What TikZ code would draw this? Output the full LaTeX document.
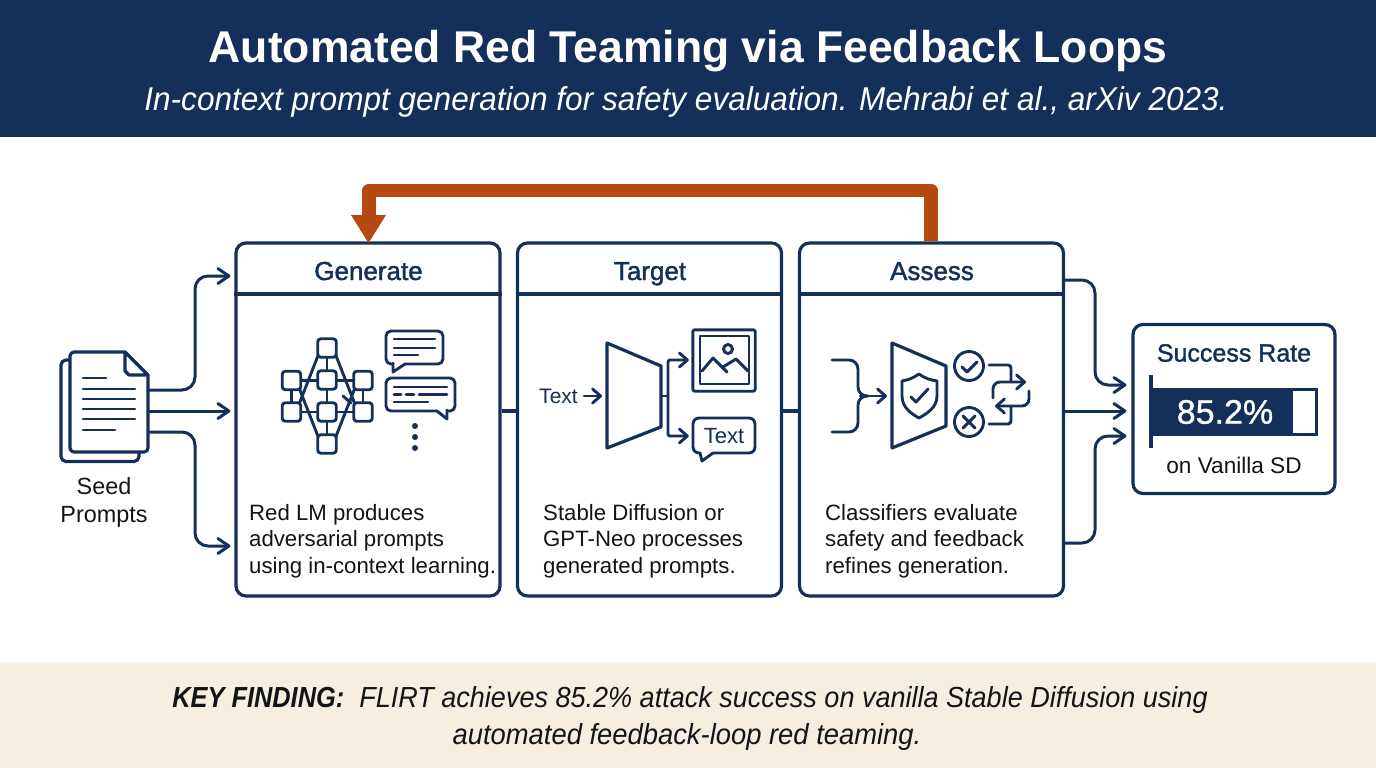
\documentclass[tikz,border=0pt]{standalone}
\usepackage{fontspec}
\setmainfont{Liberation Sans}
\usetikzlibrary{arrows.meta,calc}
\definecolor{navy}{HTML}{14305A}
\definecolor{rust}{HTML}{B5490F}
\definecolor{cream}{HTML}{F6EFE0}
\definecolor{ink}{HTML}{111418}
\newcommand{\fsz}[1]{\fontsize{#1}{#1}\selectfont}
\tikzset{
  line/.style={draw=navy,line width=3.2pt,line join=round,line cap=round},
  thinline/.style={draw=navy,line width=2.9pt,line join=round,line cap=round},
  textline/.style={draw=navy,line width=2.6pt,line cap=round},
  conn/.style={draw=navy,line width=3pt,rounded corners=13pt,line cap=round},
  arr/.style={conn,-{Straight Barb[length=11pt,width=15pt,line cap=round,round]}},
  smallarr/.style={thinline,-{Straight Barb[length=8pt,width=14pt,line cap=round,round]}},
  panel/.style={draw=navy,line width=3.2pt,rounded corners=10pt,fill=white,minimum width=264pt,minimum height=353pt,inner sep=0pt},
  head/.style={text=navy,font=\fsz{26}\addfontfeature{FakeBold=1.6},anchor=base},
  body/.style={text=ink,font=\fsz{22.2},align=left,anchor=west,inner sep=0pt},
  mini/.style={thinline,fill=white,rounded corners=3pt,minimum size=18.5pt,inner sep=0pt},
}
\begin{document}
\begin{tikzpicture}[x=1pt,y=-1pt]
\useasboundingbox (0,0) rectangle (1376,768);
\fill[white] (0,0) rectangle (1376,768);
% bands
\fill[navy] (0,0) rectangle (1376,137);
\fill[cream] (0,662) rectangle (1376,768);
\node[text=white,font=\fsz{44.5}\bfseries,inner sep=0pt] (title) at (688,51) {Automated Red Teaming via Feedback Loops};
\node[text=white,font=\fsz{33}\itshape\addfontfeature{FakeStretch=0.956},inner sep=0pt] (subtitle) at (686,102) {In-context prompt generation for safety evaluation. Mehrabi et al., arXiv 2023.};
\node[text=ink,font=\fsz{29}\itshape\addfontfeature{FakeStretch=0.932},inner sep=0pt] (key1) at (690,699.5) {{\bfseries\addfontfeature{FakeStretch=0.875}KEY FINDING:}\ \ FLIRT achieves 85.2\% attack success on vanilla Stable Diffusion using};
\node[text=ink,font=\fsz{29}\itshape\addfontfeature{FakeStretch=0.944},inner sep=0pt] (key2) at (687,736.5) {automated feedback-loop red teaming.};
% y levels
\coordinate (yA) at (0,276);
\coordinate (yB) at (0,411);
\coordinate (yC) at (0,546);
\coordinate (yD) at (0,385);
\coordinate (yE) at (0,436);
% panels
\node[panel] (gen) at (368,419.5) {};
\node[panel] (tar) at (649.5,419.5) {};
\node[panel] (ass) at (931.5,419.5) {};
\draw[line,line cap=butt] (gen.west|-0,294) -- (gen.east|-0,294);
\draw[line,line cap=butt] (tar.west|-0,294) -- (tar.east|-0,294);
\draw[line,line cap=butt] (ass.west|-0,294) -- (ass.east|-0,294);
\node[head] (genh) at (368.5,280) {Generate};
\node[head] (tarh) at (650,280) {Target};
\node[head] (assh) at (932,280) {Assess};
\node[body] (gent) at (249,541.2) {Red LM produces\\[4pt]adversarial prompts\\[4pt]using in-context learning.};
\node[body] (tart) at (543,541.2) {Stable Diffusion or\\[4pt]GPT-Neo processes\\[4pt]generated prompts.};
\node[body] (asst) at (825,541.2) {Classifiers evaluate\\[4pt]safety and feedback\\[4pt]refines generation.};
% links between panels
\draw[line,line cap=butt] (gen.east|-yB) -- (tar.west|-yB);
\draw[line,line cap=butt] (tar.east|-yB) -- (ass.west|-yB);
% feedback
\draw[rust,line width=13.5pt,line join=round] (ass.north-|931,0) -- (931,190.5) -- (369,190.5) -- (369,216);
\fill[rust] (351,215) -- (386,215) -- (368.5,243) -- cycle;
% seed document
\node[minimum width=78pt,minimum height=100pt,inner sep=0pt] (doc) at (109,402) {};
\draw[line,rounded corners=5pt] (70,360) -- (61,360) -- (61,461.5) -- (139,461.5) -- (139,452);
\draw[line,fill=white,rounded corners=4pt] (125,352) -- (70,352) -- (70,452) -- (148,452) -- (148,375);
\draw[line] (125,352) -- (148,375) -- (129,375) -- (125,371) -- cycle;
\foreach \yy/\xx in {378/106,389/135,399/135,409/135,419/135,430/115}
  \draw[textline] (83,\yy) -- (\xx,\yy);
\node[text=ink,font=\fsz{23.4},align=center,inner sep=0pt] (seed) at (104,502.5) {Seed\\[5pt]Prompts};
\draw[arr,shorten >=4pt] (doc.east|-0,390) -- (195,390) -- (195,276) -- (gen.west|-yA);
\draw[arr,shorten >=4pt] (doc.east|-yB) -- (gen.west|-yB);
\draw[arr,shorten >=4pt] (doc.east|-0,432) -- (195,432) -- (195,546) -- (gen.west|-yC);
% network icon
\foreach \n/\px/\py in {n1/327/348,n2/327/380,n3/327/412,n4/327/444,n5/291.5/380.5,n6/291.5/412,n7/363/380.5,n8/363/412}
  \coordinate (\n) at (\px,\py);
\draw[thinline] (n5)--(n7) (n6)--(n8) (n1)--(n4) (n5)--(n6) (n7)--(n8);
\draw[thinline] (321,348)--(296,412) (333,348)--(358,412) (321,444)--(296,380) (333,444)--(358,380);
\draw[thinline] (343,396)--(351,403);
\foreach \n in {n1,n2,n3,n4,n5,n6,n7,n8}
  \node[mini] (\n b) at (\n) {};
% chats
\draw[thinline,rounded corners=5pt] (393,364) -- (386,364) -- (386,331) -- (443,331) -- (443,364) -- (405,364);
\draw[thinline] (405,364) -- (393,372) -- (393,363);
\foreach \yy/\xx in {339/435,348/435,355/418}
  \draw[textline] (394,\yy) -- (\xx,\yy);
\draw[thinline,rounded corners=5pt] (437,411) -- (386,411) -- (386,378) -- (455,378) -- (455,411) -- (447,411);
\draw[thinline] (437,411) -- (447,419) -- (447,410);
\draw[textline] (394,387) -- (447,387) (394,394.5) -- (401,394.5) (406,394.5) -- (414,394.5) (419,394.5) -- (447,394.5) (394,402) -- (428,402);
\foreach \yy in {426,437,448}
  \fill[navy] (415,\yy) circle (3pt);
% target icon
\node[text=navy,font=\fsz{21},inner sep=0pt] (ttext) at (558.5,396) {Text};
\draw[line] (607,343) -- (661,366) -- (661,427) -- (607,448) -- cycle;
\coordinate (tin) at (607,396);
\draw[smallarr,shorten >=5pt] (584,396) -- (tin);
\node[inner sep=0pt,minimum width=62pt,minimum height=61pt] (img) at (724,360.5) {};
\node[inner sep=0pt,minimum width=62pt,minimum height=35pt] (bub) at (724,435.5) {};
\draw[thinline,rounded corners=2pt] (img.north west) rectangle (img.south east);
\draw[thinline] (700,336) rectangle (749,384);
\draw[thinline] (702,371) -- (713,358) -- (727,372) (723,367) -- (736,359) -- (748,371);
\draw[thinline] (728,349) circle (4.5pt);
\draw[thinline,rounded corners=6pt] (700,453) -- (693,453) -- (693,418) -- (755,418) -- (755,453) -- (713,453);
\draw[thinline] (713,453) -- (702,461) -- (700,453);
\node[text=navy,font=\fsz{22},inner sep=0pt] (btext) at (724,436.5) {Text};
\draw[thinline,line cap=butt] (661,396) -- (668,396);
\draw[smallarr,rounded corners=2pt,shorten >=4pt] (668,396) -- (668,360) -- (img.west|-0,360);
\draw[smallarr,rounded corners=2pt,shorten >=4pt] (668,396) -- (668,436) -- (bub.west|-0,436);
% assess icon
\draw[line] (892,343) -- (946,366) -- (946,426) -- (892,448) -- cycle;
\coordinate (ain) at (892,396);
\draw[thinline,rounded corners=9pt] (832,360) -- (858,360) -- (858,396) -- (868,396);
\draw[thinline,rounded corners=9pt] (832,432) -- (858,432) -- (858,396) -- (868,396);
\draw[smallarr,shorten >=5pt] (860,396) -- (ain);
\draw[thinline] (919,374) .. controls (910,380) and (906,380) .. (902,381) -- (902,396) .. controls (902,408) and (912,414) .. (919,418) .. controls (926,414) and (937,408) .. (937,396) -- (937,381) .. controls (931,380) and (926,379) .. (919,374) -- cycle;
\draw[thinline] (911,397) -- (916,402) -- (928,389);
\node[circle,thinline,minimum size=29pt,inner sep=0pt] (ok) at (969,366) {};
\node[circle,thinline,minimum size=29pt,inner sep=0pt] (no) at (969,422) {};
\draw[thinline] (962,367) -- (967,372) -- (977,362);
\draw[thinline] (963,416) -- (975,428) (975,416) -- (963,428);
\draw[thinline,rounded corners=3pt] (ok.east|-0,365) ++(4,0) -- (1011,365) -- (1011,382);
\draw[thinline,rounded corners=3pt] (no.east|-0,424) ++(4,0) -- (1011,424) -- (1011,406);
\draw[smallarr,rounded corners=7pt] (993,398) -- (993,382) -- (1026,382);
\draw[smallarr,rounded corners=7pt] (1029,391) -- (1029,406) -- (995,406);
% success box
\node[draw=navy,line width=3.2pt,rounded corners=10pt,minimum width=202pt,minimum height=169pt,inner sep=0pt] (res) at (1234,409) {};
\node[text=navy,font=\fsz{25}\addfontfeature{FakeBold=1.4},inner sep=0pt] (rest) at (1234,353) {Success Rate};
\fill[navy] (1150,388) rectangle (1318,436);
\fill[white] (1293,390.5) rectangle (1315,433);
\draw[line,line cap=butt] (1151,375) -- (1151,448);
\node[text=white,font=\fsz{34}\addfontfeature{FakeBold=1},inner sep=0pt] (pct) at (1225,412) {85.2\%};
\node[text=ink,font=\fsz{22.6},inner sep=0pt] (van) at (1234,465) {on Vanilla SD};
\draw[arr,shorten >=5pt] (ass.east|-0,280) -- (1095,280) -- (1095,385) -- (res.west|-yD);
\draw[arr,shorten >=5pt] (ass.east|-yB) -- (res.west|-yB);
\draw[arr,shorten >=5pt] (ass.east|-0,543) -- (1095,543) -- (1095,436) -- (res.west|-yE);
\end{tikzpicture}
\end{document}
